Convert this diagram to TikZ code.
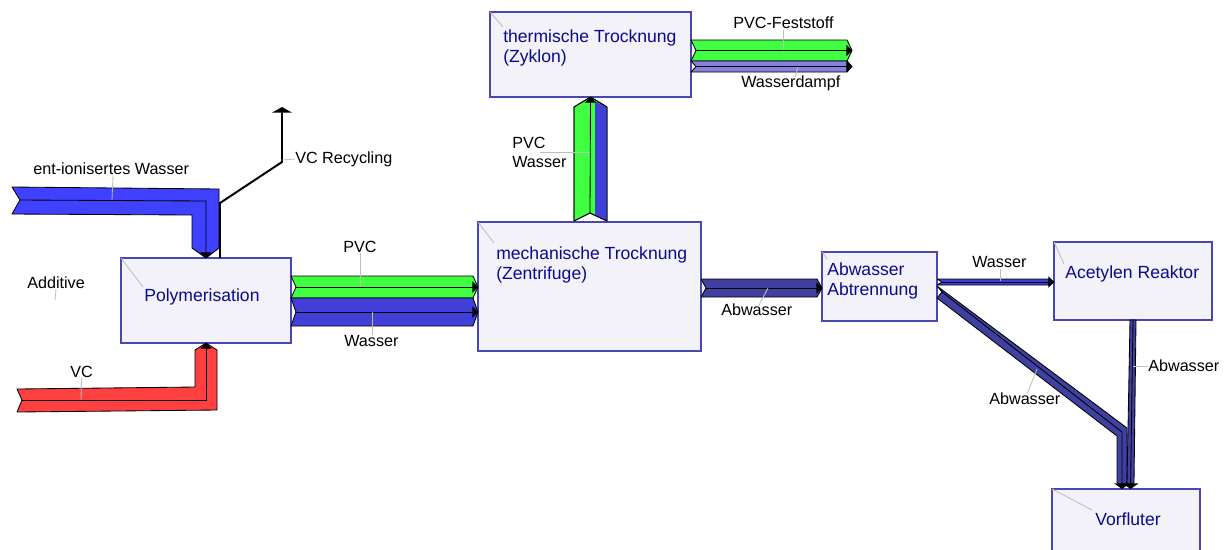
\documentclass[tikz,border=0pt]{standalone}
\usepackage{fontspec}
\setmainfont{Liberation Sans}
\usetikzlibrary{arrows.meta,calc}

\definecolor{boxfill}{RGB}{242,242,248}
\definecolor{boxline}{RGB}{72,72,176}
\definecolor{boxtext}{RGB}{10,10,140}
\definecolor{leadgrey}{RGB}{190,190,190}
\definecolor{diwater}{RGB}{64,64,255}
\definecolor{water}{RGB}{64,64,216}
\definecolor{pvc}{RGB}{64,255,64}
\definecolor{vc}{RGB}{255,64,64}
\definecolor{steam}{RGB}{136,128,224}
\definecolor{waste}{RGB}{64,64,160}

% horizontal band: start, end, top y, bottom y, colour
\newcommand{\hband}[5]{%
  \pgfmathsetmacro\bandmid{(#3+#4)/2}
  \filldraw[band, fill=#5] (#1 |- 0,#3) -- ($(#2 |- 0,#3)+(-5,0)$)
    -- (#2 |- 0,\bandmid) -- ($(#2 |- 0,#4)+(-5,0)$) -- (#1 |- 0,#4)
    -- ($(#1 |- 0,\bandmid)+(5,0)$) -- cycle;
  \draw[bandline] ($(#1 |- 0,\bandmid)+(5,0)$) -- (#2 |- 0,\bandmid);
}

\tikzset{
  box/.style={draw=boxline, fill=boxfill, line width=1pt, inner sep=0pt, outer sep=0pt},
  boxtxt/.style={text=boxtext, font=\fontsize{12.5}{14.5}\selectfont, align=left, anchor=west, inner sep=0pt},
  lbl/.style={font=\fontsize{11.5}{13.5}\selectfont, align=left, anchor=west, inner sep=0pt},
  leader/.style={draw=leadgrey, line width=0.6pt},
  band/.style={draw=black, line width=0.6pt, line join=round},
  bandline/.style={line width=0.6pt, -{Triangle[length=4pt,width=8pt]}},
  bigtip/.style={line width=0.6pt, -{Triangle[length=4pt,width=11pt]}},
}

\begin{document}
\begin{tikzpicture}[x=0.025cm, y=-0.025cm]
  \useasboundingbox (0,0) rectangle (1227,549);
  \clip (0,0) rectangle (1227,549);

  % boxes
  \node[box, minimum width=4.25cm, minimum height=2.125cm] (poly) at (206,300.5) {};
  \node[box, minimum width=5.575cm, minimum height=3.225cm] (mech) at (589.5,286.5) {};
  \node[box, minimum width=5.025cm, minimum height=2.125cm] (therm) at (590.5,54.5) {};
  \node[box, minimum width=2.875cm, minimum height=1.725cm] (abtr) at (879.5,286.5) {};
  \node[box, minimum width=3.95cm, minimum height=1.95cm] (acet) at (1133,281) {};
  \node[box, minimum width=3.7cm, minimum height=1.775cm] (vorf) at (1126,524.5) {};

  \node[boxtxt] (polyT) at (144,297) {Polymerisation};
  \node[boxtxt] (mechT) at (496,265) {mechanische Trocknung\\(Zentrifuge)};
  \node[boxtxt] (thermT) at (503,48) {thermische Trocknung\\(Zyklon)};
  \node[boxtxt] (abtrT) at (827,281) {Abwasser\\Abtrennung};
  \node[boxtxt] (acetT) at (1065,274) {Acetylen Reaktor};
  \node[boxtxt] (vorfT) at (1095,519) {Vorfluter};

  \coordinate (pvcend) at (852,50);
  \coordinate (steamend) at (852,66);

  % feed: ent-ionisertes Wasser
  \filldraw[band, fill=diwater] (12,187) -- (219,189) -- (219,248) -- (poly.north)
    -- (192,248) -- (192,215) -- (12,214) -- (20,200) -- cycle;
  \draw[bandline] (20,200) -- (206,201) -- (poly.north);

  % feed: VC
  \filldraw[band, fill=vc] (17,389) -- (195,387) -- (195,350) -- (poly.south)
    -- (217,350) -- (217,410) -- (17,412) -- (22,400) -- cycle;
  \draw[bandline] (22,400) -- (206,400) -- (poly.south);

  % VC Recycling
  \draw[line width=1.4pt, -{Triangle[length=4pt,width=14pt]}]
    (poly.north -| 220,0) -- (220,203) -- (282,162) -- (282,107);

  % Polymerisation -> mechanische Trocknung
  \hband{poly.east}{mech.west}{276}{298}{pvc}
  \hband{poly.east}{mech.west}{298}{326}{water}

  % mechanische -> thermische Trocknung
  \filldraw[band, fill=pvc] (574,221) -- (574,107) -- (therm.south) -- (607,107)
    -- (607,221) -- (590,213) -- cycle;
  \fill[water] (595,215.4) -- (607,221) -- (607,107) -- (595,101.4) -- cycle;
  \draw[band] (574,221) -- (574,107) -- (therm.south) -- (607,107)
    -- (607,221) -- (590,213) -- cycle;
  \draw[bandline] (590,213) -- (therm.south);

  % thermische Trocknung -> out
  \hband{therm.east}{pvcend}{40}{61}{pvc}
  \hband{therm.east}{steamend}{61}{72}{steam}

  % Abwasser
  \hband{mech.east}{abtr.west}{279}{297}{waste}
  \hband{abtr.east}{acet.west}{279}{285}{water}

  \filldraw[band, fill=waste] (937,286) -- (1127,428) -- (1127,482) -- (1122,488)
    -- (1117,482) -- (1117,436) -- (937,298) -- (942,292) -- cycle;
  \draw[bigtip] (942,292) -- (1122,432) -- (vorf.north -| 1122,0);

  \filldraw[band, fill=waste] (acet.south -| 1130,0) -- (acet.south -| 1136,0)
    -- (1134,482) -- (1130.5,488) -- (1127,482) -- cycle;
  \draw[bigtip] (acet.south) -- (vorf.north -| 1130.5,0);

  % labels
  \node[lbl] (diwT) at (33,169) {ent-ionisertes Wasser};
  \node[lbl] (recT) at (295,159) {VC Recycling};
  \node[lbl] (addT) at (27,283) {Additive};
  \node[lbl] (vcT) at (70,372) {VC};
  \node[lbl] (pvcT) at (343,247) {PVC};
  \node[lbl] (wasT) at (344,341) {Wasser};
  \node[lbl] (upT) at (512,152) {PVC\\Wasser};
  \node[lbl] (festT) at (733,23) {PVC-Feststoff};
  \node[lbl] (dampfT) at (741,83) {Wasserdampf};
  \node[lbl] (abwaT) at (721,310) {Abwasser};
  \node[lbl] (wasbT) at (972,262) {Wasser};
  \node[lbl] (abwbT) at (989,399) {Abwasser};
  \node[lbl] (abwcT) at (1148,366) {Abwasser};

  % leader lines
  \draw[leader] (diwT.south -| 113,0) -- (112,200);
  \draw[leader] (282,160) -- (recT.west);
  \draw[leader] (addT.south) -- (55,300);
  \draw[leader] (vcT.south) -- (81,400);
  \draw[leader] (pvcT.south -| 360,0) -- (360,287);
  \draw[leader] (372,312) -- (wasT.north -| 372,0);
  \draw[leader] (540,152) -- (590,152);
  \draw[leader] (783,30) -- (783,50);
  \draw[leader] (798,67) -- (795,77);
  \draw[leader] (768,288) -- (758,307);
  \draw[leader] (1000,269) -- (1000,281);
  \draw[leader] (1037,369) -- (1027,394);
  \draw[leader] (1133,366) -- (abwcT.west);
  \draw[leader] (poly.north west) -- (143,287);
  \draw[leader] (therm.north west) -- (503,27);
  \draw[leader] (mech.north west) -- (494,243);
  \draw[leader] (abtr.north west) -- (827,259);
  \draw[leader] (acet.north west) -- (1064,264);
  \draw[leader] (vorf.north west) -- (1092,510);
\end{tikzpicture}
\end{document}
